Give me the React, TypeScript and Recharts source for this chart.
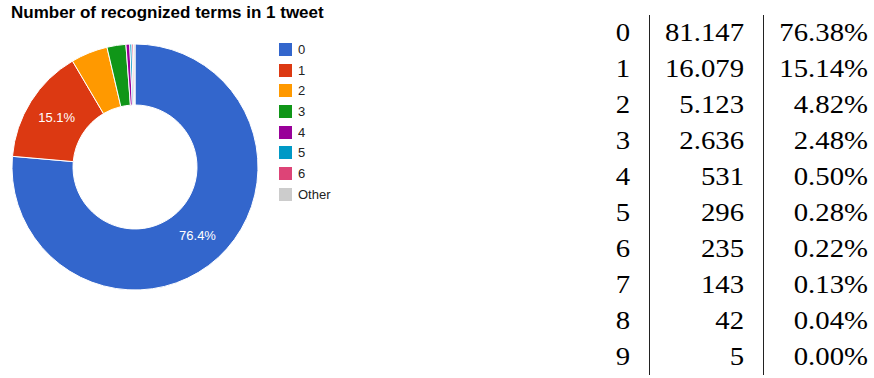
import { PieChart, Pie, Cell, Legend } from 'recharts';

const termCounts = ['0', '1', '2', '3', '4', '5', '6', '7', '8', '9'];
const tweetCounts = [81147, 16079, 5123, 2636, 531, 296, 235, 143, 42, 5];
const tweetShares = ['76.38%', '15.14%', '4.82%', '2.48%', '0.50%', '0.28%', '0.22%', '0.13%', '0.04%', '0.00%'];
const sliceColors = ['#3366cc', '#dc3912', '#ff9900', '#109618', '#990099', '#0099c6', '#dd4477', '#cccccc'];

// google-style donut: first 7 terms, rest lumped into "Other"
const pieData = [
  ...termCounts.slice(0, 7).map((name, i) => ({ name, value: tweetCounts[i] })),
  { name: 'Other', value: tweetCounts.slice(7).reduce((a, b) => a + b, 0) },
];

const RADIAN = Math.PI / 180;
const SANS = 'Arial, "Liberation Sans", sans-serif';
const SERIF = '"Liberation Serif", "Times New Roman", serif';

const formatCount = (n: number) =>
  n >= 1000 ? `${Math.floor(n / 1000)}.${String(n % 1000).padStart(3, '0')}` : String(n);

const renderLabel = (props: any) => {
  const { cx, cy, midAngle, innerRadius, outerRadius, percent } = props;
  if (percent < 0.1) return null;
  const r = (innerRadius + outerRadius) / 2;
  const x = cx + r * Math.cos(-midAngle * RADIAN);
  const y = cy + r * Math.sin(-midAngle * RADIAN);
  return (
    <text x={x} y={y} fill="#fff" fontSize={13} fontFamily={SANS} textAnchor="middle" dominantBaseline="central">
      {`${(percent * 100).toFixed(1)}%`}
    </text>
  );
};

const LegendList = ({ payload }: any) => (
  <div style={{ fontFamily: SANS, fontSize: 13, color: '#222' }}>
    {(payload || []).map((p: any, i: number) => (
      <div key={i} style={{ display: 'flex', alignItems: 'center', height: 20.7 }}>
        <span style={{ width: 13, height: 13, background: p.color, display: 'inline-block', marginRight: 6 }} />
        <span>{p.value}</span>
      </div>
    ))}
  </div>
);

const cellText = (extra: React.CSSProperties): React.CSSProperties => ({
  position: 'absolute',
  fontFamily: SERIF,
  fontSize: 25,
  lineHeight: '36px',
  height: 36,
  whiteSpace: 'nowrap',
  ...extra,
});

export default function App() {
  return (
    <div style={{ position: 'absolute', left: 0, top: 0, width: 874, height: 378, background: '#fff', overflow: 'hidden' }}>
      <div style={{ position: 'absolute', left: 11, top: 3, fontFamily: SANS, fontWeight: 'bold', fontSize: 17, color: '#000' }}>
        Number of recognized terms in 1 tweet
      </div>
      <div style={{ position: 'absolute', left: 0, top: 0 }}>
        <PieChart width={360} height={378} margin={{ top: 0, right: 0, bottom: 0, left: 0 }}>
          <Pie
            data={pieData}
            dataKey="value"
            nameKey="name"
            cx={135}
            cy={167}
            innerRadius={62}
            outerRadius={123}
            startAngle={90}
            endAngle={-270}
            stroke="#fff"
            strokeWidth={1}
            label={renderLabel}
            labelLine={false}
            isAnimationActive={false}
          >
            {pieData.map((d, i) => (
              <Cell key={d.name} fill={sliceColors[i]} />
            ))}
          </Pie>
          <Legend
            layout="vertical"
            align="right"
            verticalAlign="top"
            content={<LegendList />}
            wrapperStyle={{ left: 279, top: 39, width: 80 }}
          />
        </PieChart>
      </div>
      {/* table on the right */}
      <div style={{ position: 'absolute', left: 649, top: 15, width: 1, height: 360, background: '#222' }} />
      <div style={{ position: 'absolute', left: 763, top: 15, width: 1, height: 360, background: '#222' }} />
      {termCounts.map((t, i) => (
        <div key={t}>
          <div style={cellText({ left: 600, width: 46, top: 15 + i * 36, textAlign: 'center', transform: 'scaleX(1.15)' })}>{t}</div>
          <div style={cellText({ left: 644, width: 100, top: 15 + i * 36, textAlign: 'right', transform: 'scaleX(1.15)', transformOrigin: 'right center' })}>
            {formatCount(tweetCounts[i])}
          </div>
          <div style={cellText({ left: 768, width: 100, top: 15 + i * 36, textAlign: 'right', transform: 'scaleX(1.15)', transformOrigin: 'right center' })}>
            {tweetShares[i]}
          </div>
        </div>
      ))}
    </div>
  );
}
